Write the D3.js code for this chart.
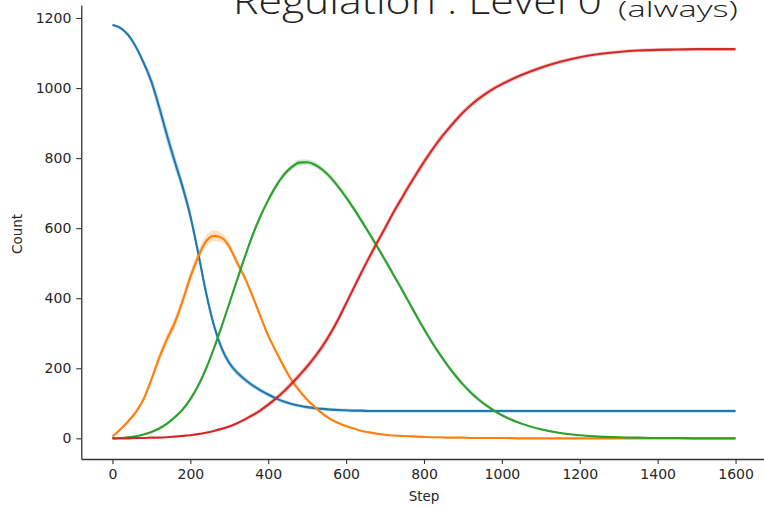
<!DOCTYPE html>
<html><head><meta charset="utf-8">
<script src="https://cdn.jsdelivr.net/npm/d3@7"></script>
<style>body{margin:0;background:#fff;} svg{display:block;}</style>
</head><body><svg id="c" width="764" height="506"></svg>
<script>
const steps = [0,20,40,60,80,100,120,140,160,180,200,220,240,260,280,300,320,340,360,380,400,420,440,460,480,500,520,540,560,580,600,620,640,660,680,700,720,740,760,780,800,820,840,860,880,900,920,940,960,980,1000,1050,1100,1150,1200,1250,1300,1350,1400,1450,1500,1550,1600];
const blueVals = [1180,1172,1152,1118,1072,1018,945,865,790,718,635,530,418,325,258,215,188,168,151,137,125,114,105,98,93,89,86,84,82,81,80,79,79,78,78,78,78,78,78,78,78,78,78,78,78,78,78,78,78,78,78,78,78,78,78,78,78,78,78,78,78,78,78];
const orangeVals = [5,25,48,75,112,168,230,283,330,392,460,518,562,578,573,547,502,458,405,348,293,248,205,166,136,110,89,70,55,44,35,28,21,17,13,10,8,7,6,5,4,3,3,2,2,2,1,1,1,1,1,0,0,0,0,0,0,0,0,0,0,0,0];
const greenVals = [0,1,3,6,11,18,28,42,60,82,112,150,198,255,318,385,452,518,580,634,680,720,752,774,787,788,781,766,745,718,688,655,620,584,547,509,470,431,391,351,312,275,241,209,180,154,131,111,94,79,66,42,26,15,9,5,3,2,1,1,0,0,0];
const redVals = [0,0,0,1,1,2,2,3,5,7,9,12,16,21,27,34,43,54,66,80,96,114,134,156,180,205,233,264,300,340,385,430,475,518,560,600,642,680,718,754,789,822,853,880,906,930,951,969,985,999,1011,1037,1058,1075,1088,1097,1103,1107,1109,1110,1111,1111,1111];
const blueCI = [3,4,5,7,10,15,20,22,20,18,17,16,15,13,11,10,9,8,7,7,6,6,5,5,5,5,5,5,5,5,5,5,5,5,5,5,5,5,5,5,5,5,5,5,5,5,5,5,5,5,5,5,5,5,5,5,5,5,5,5,5,5,5];
const orangeCI = [3,4,5,7,9,11,13,15,16,16,16,16,16,15,13,11,10,9,9,8,8,7,7,6,6,5,5,4,4,3,3,2,2,2,2,2,1,1,1,1,1,1,1,1,1,1,1,1,1,1,1,1,1,1,1,1,1,1,1,1,1,1,1];
const greenCI = [1,1,1,2,2,3,4,4,5,6,6,7,7,8,8,8,8,8,8,8,8,8,8,8,8,8,8,8,8,8,8,8,8,8,8,8,8,8,8,8,8,8,7,7,7,6,6,6,5,5,4,3,3,2,2,1,1,1,1,1,1,1,1];
const redCI = [1,1,1,1,1,1,1,1,2,2,2,2,3,3,3,4,4,5,6,6,7,7,8,9,10,10,10,11,11,11,11,11,11,11,11,11,11,11,11,11,11,10,10,9,9,9,8,8,8,7,7,6,6,6,5,5,5,5,5,5,5,5,5];
const seriesColors = ["#1f77b4","#ff7f0e","#2ca02c","#d62728"];
const xTicks = [0,200,400,600,800,1000,1200,1400,1600];
const yTicks = [0,200,400,600,800,1000,1200];

const series = [
  {vals: blueVals, ci: blueCI},
  {vals: orangeVals, ci: orangeCI},
  {vals: greenVals, ci: greenCI},
  {vals: redVals, ci: redCI}
];

const svg = d3.select("#c");
const x = d3.scaleLinear().domain([-80, 1680]).range([81.3, 766.7]);
const y = d3.scaleLinear().domain([-59, 1237]).range([459, 5]);

const tickFont = "DejaVu Sans, sans-serif";

series.forEach((s, i) => {
  const pts = steps.map((st, k) => ({s: st, v: s.vals[k], c: s.ci[k]}));
  svg.append("path").datum(pts)
    .attr("d", d3.area().x(d => x(d.s)).y0(d => y(d.v - d.c)).y1(d => y(d.v + d.c)).curve(d3.curveMonotoneX))
    .attr("fill", seriesColors[i]).attr("fill-opacity", 0.25).attr("stroke", "none");
});
series.forEach((s, i) => {
  const pts = steps.map((st, k) => ({s: st, v: s.vals[k]}));
  svg.append("path").datum(pts)
    .attr("d", d3.line().x(d => x(d.s)).y(d => y(d.v)).curve(d3.curveMonotoneX))
    .attr("fill", "none").attr("stroke", seriesColors[i]).attr("stroke-width", 2.1)
    .attr("stroke-linejoin", "round");
});

const fmt = d3.format("d");
const xAxis = svg.append("g").attr("transform", "translate(0,459)")
  .call(d3.axisBottom(x).tickValues(xTicks).tickFormat(fmt).tickSize(5).tickPadding(5).tickSizeOuter(0));
const yAxis = svg.append("g").attr("transform", "translate(81.3,0)")
  .call(d3.axisLeft(y).tickValues(yTicks).tickFormat(fmt).tickSize(5).tickPadding(5).tickSizeOuter(0));
[xAxis, yAxis].forEach(g => {
  g.select(".domain").attr("stroke", "#333").attr("stroke-width", 1.3);
  g.selectAll(".tick line").attr("stroke", "#333").attr("stroke-width", 1.1);
  g.selectAll(".tick text").attr("fill", "#262626").style("font-family", tickFont).style("font-size", "14px");
});

svg.append("text").attr("x", 424).attr("y", 501).attr("text-anchor", "middle")
  .style("font-family", tickFont).style("font-size", "13.5px").attr("fill", "#262626").text("Step");
svg.append("text").attr("transform", "translate(22,234) rotate(-90)").attr("text-anchor", "middle")
  .style("font-family", tickFont).style("font-size", "13.5px").attr("fill", "#262626").text("Count");

svg.append("text").attr("x", 233).attr("y", 14)
  .attr("textLength", 369).attr("lengthAdjust", "spacingAndGlyphs")
  .style("font-family", "Open Sans, sans-serif").style("font-weight", 300).style("font-size", "36px")
  .attr("fill", "#222").text("Regulation : Level 0");
svg.append("text").attr("x", 618).attr("y", 17)
  .attr("textLength", 120).attr("lengthAdjust", "spacingAndGlyphs")
  .style("font-family", "Open Sans, sans-serif").style("font-weight", 300).style("font-size", "22px")
  .attr("fill", "#222").text("(always)");
</script></body></html>
